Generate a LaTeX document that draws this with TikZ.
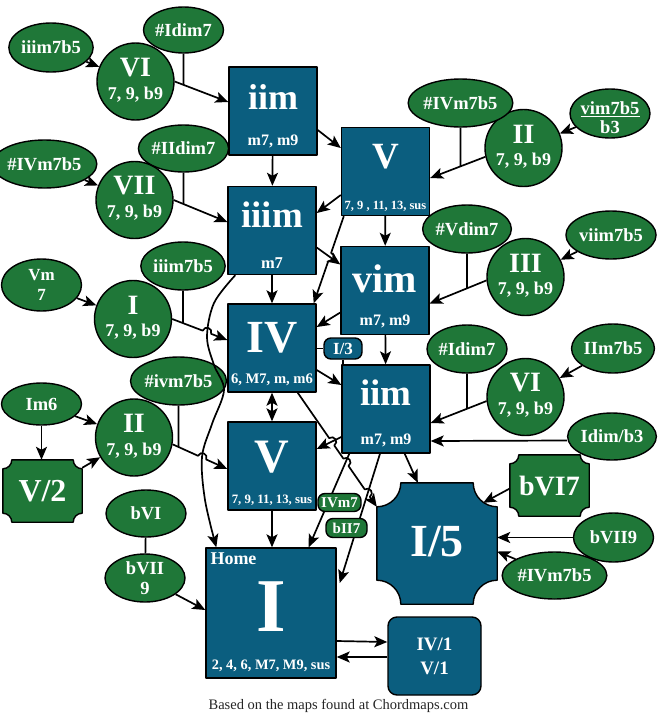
\documentclass[tikz,border=0pt]{standalone}
\usepackage{fontspec}
\setmainfont{Liberation Serif}
\usetikzlibrary{arrows.meta,shapes.geometric,calc}
\definecolor{bluec}{RGB}{11,94,127}
\definecolor{greenc}{RGB}{31,119,56}
\newcommand{\myfs}[1]{\fontsize{#1}{#1}\selectfont\bfseries}
% concave-corner box drawn on the rectangle of node #1, corner radius #2, style #3
\newcommand{\concavebox}[3]{%
  \draw[#3] ($(#1.north west)+(#2,0)$) -- ($(#1.north east)+(-#2,0)$)
  .. controls +(0,0.5523*#2) and +(-0.5523*#2,0) .. ($(#1.north east)+(0,#2)$)
  -- ($(#1.south east)+(0,-#2)$)
  .. controls +(-0.5523*#2,0) and +(0,-0.5523*#2) .. ($(#1.south east)+(-#2,0)$)
  -- ($(#1.south west)+(#2,0)$)
  .. controls +(0,-0.5523*#2) and +(0.5523*#2,0) .. ($(#1.south west)+(0,-#2)$)
  -- ($(#1.north west)+(0,#2)$)
  .. controls +(0.5523*#2,0) and +(0,0.5523*#2) .. ($(#1.north west)+(#2,0)$) -- cycle;}
\newcommand{\gcirc}[4]{%
  \node[gc] (#1) at (#2) {};
  \node[wt,font=\myfs{28}] at ($(#1)+(0,-14)$) {#3};
  \node[wt,font=\myfs{18}] at ($(#1)+(0,13)$) {#4};}
\newcommand{\bluesq}[8]{%
  \node[bx] (#1) at (#2) {};
  \node[wt,font=\myfs{#4}] at ($(#1)+(0,#5)$) {#3};
  \node[wt,font=\myfs{#7}] at ($(#1)+(0,#8)$) {#6};}
% hop coordinates: prefix, start, end, position
\newcommand{\hopat}[4]{%
  \coordinate (#1c) at ($(#2)!#4!(#3)$);
  \coordinate (#1a) at ($(#1c)!4.5pt!(#2)$);
  \coordinate (#1b) at ($(#1c)!4.5pt!(#3)$);}
\tikzset{
  bx/.style={draw=black, fill=bluec, line width=1.4pt, inner sep=0pt, minimum width=88pt, minimum height=88pt},
  gc/.style={circle, draw=black, fill=greenc, line width=1.4pt, inner sep=0pt, minimum size=77pt},
  ge/.style={ellipse, draw=black, fill=greenc, line width=1.4pt, inner sep=0pt, minimum width=80pt, minimum height=48pt, text=white, align=center, font={\myfs{18.5}}},
  wt/.style={text=white, inner sep=0pt, align=center},
  arr/.style={line width=1.7pt, -{Stealth[length=13pt,width=11pt,inset=3pt]}},
  darr/.style={line width=1.7pt, {Stealth[length=13pt,width=11pt,inset=3pt]}-{Stealth[length=13pt,width=11pt,inset=3pt]}},
  ln/.style={line width=1.7pt},
  pill/.style={rounded corners=7pt, draw=black, line width=1.4pt, inner sep=0pt, text=white, font={\myfs{15}}},
  cshape/.style={draw=black, fill=#1, line width=1.4pt},
}
\begin{document}
\begin{tikzpicture}[x=1pt,y=-1pt,line join=round]
\path[fill=white,use as bounding box] (0,0) rectangle (659,718);

% ---------- blue boxes ----------
\bluesq{iimA}{273,111}{iim}{36}{-14}{m7, m9}{16}{30}
\bluesq{VA}{385.5,171.5}{V}{37}{-14.5}{7, 9 , 11, 13, sus}{12.5}{34.5}
\bluesq{iiim}{272,230.5}{iiim}{37}{-15.5}{m7}{16.5}{32.5}
\bluesq{vim}{385,290.5}{vim}{40}{-12}{m7, m9}{16}{30.5}
\bluesq{IV}{272,348}{IV}{46}{-10}{6, M7, m, m6}{14.6}{32}
\bluesq{iimB}{386,409}{iim}{37}{-16.5}{m7, m9}{16}{31}
\bluesq{VB}{272,466}{V}{48}{-9}{7, 9, 11, 13, sus}{12.8}{34}

\node[bx, minimum width=130pt, minimum height=130pt] (home) at (271,613) {};
\node[wt, anchor=west, font=\myfs{18}] at ($(home.north west)+(5,11)$) {Home};
\node[wt, font=\myfs{76}] at ($(home)+(0,-6)$) {I};
\node[wt, font=\myfs{14.4}] at ($(home)+(0,53)$) {2, 4, 6, M7, M9, sus};

\node[inner sep=0pt, minimum width=120pt, minimum height=121pt] (I5) at (437,543.5) {};
\concavebox{I5}{24}{cshape=bluec}
\node[wt, font=\myfs{46}] at ($(I5)+(0,-2)$) {I/5};

\node[draw=black, fill=bluec, rounded corners=9pt, line width=1.4pt, minimum width=93pt, minimum height=78pt, inner sep=0pt, text=white, align=center, font={\fontsize{19}{24}\selectfont\bfseries}] (IV1) at (434.5,656) {IV/1\\V/1};

% ---------- green circles ----------
\gcirc{VIa}{135.5,81.5}{VI}{7, 9, b9}
\gcirc{VII}{134.5,200}{VII}{7, 9, b9}
\gcirc{Ia}{133,319}{I}{7, 9, b9}
\gcirc{IIa}{134,437.5}{II}{7, 9, b9}
\gcirc{IIb}{523.5,148}{II}{7, 9, b9}
\gcirc{III}{525.5,277}{III}{7, 9, b9}
\gcirc{VIb}{525.5,397}{VI}{7, 9, b9}

% ---------- green ellipses ----------
\node[ge, minimum width=82pt, minimum height=49pt] (e1) at (51,47.5) {iiim7b5};
\node[ge, minimum height=46pt] (e2) at (183.5,30) {\#Idim7};
\node[ge] (e3) at (44.5,164) {\#IVm7b5};
\node[ge, minimum height=47pt] (e4) at (183.5,148.5) {\#IIdim7};
\node[ge, minimum height=52pt, font={\fontsize{17}{20}\selectfont\bfseries}] (e5) at (41.5,285) {Vm\\7};
\node[ge] (e6) at (183,266) {iiim7b5};
\node[ge, minimum height=42pt] (e7) at (41.5,404) {Im6};
\node[ge] (e8) at (178.5,381) {\#ivm7b5};
\node[ge, minimum height=47pt] (e9) at (146,513.5) {bVI};
\node[ge, font={\fontsize{18.5}{20}\selectfont\bfseries}] (e10) at (145,578) {bVII\\9};
\node[ge] (e11) at (460.5,103) {\#IVm7b5};
\node[ge, minimum height=49pt] (e12) at (610,113.5) {};
\node[wt, font=\myfs{18.5}] (e12t) at ($(e12)+(0,-5.5)$) {vim7b5};
\draw[white, line width=1.4pt] ($(e12t.south west)+(0,2)$) -- ($(e12t.south east)+(0,2)$);
\node[wt, font=\myfs{18.5}] at ($(e12)+(0,14)$) {b3};
\node[ge] (e13) at (467,229) {\#Vdim7};
\node[ge, minimum width=81pt] (e14) at (611,235) {viim7b5};
\node[ge] (e15) at (467,349) {\#Idim7};
\node[ge, minimum height=49pt] (e16) at (613,348.5) {IIm7b5};
\node[ge, minimum width=81pt, minimum height=47pt] (e17) at (612,436.5) {Idim/b3};
\node[ge, minimum height=49pt] (e18) at (613.5,537.5) {bVII9};
\node[ge, minimum width=81pt, minimum height=47pt] (e19) at (554.5,575.5) {\#IVm7b5};

% ---------- concave green boxes ----------
\node[inner sep=0pt, minimum width=79pt, minimum height=62pt] (V2) at (42.5,491) {};
\concavebox{V2}{9}{cshape=greenc}
\node[wt, font=\myfs{32}] at (V2) {V/2};
\node[inner sep=0pt, minimum width=79pt, minimum height=61pt] (bVI7) at (549.5,485.5) {};
\concavebox{bVI7}{9}{cshape=greenc}
\node[wt, font=\myfs{28}] at (bVI7) {bVI7};

% ---------- left side edges with junctions ----------
\draw[arr] (e1) -- (VIa);
\coordinate (a1) at (VIa.east); \coordinate (b1) at ($(iimA.west)+(0,-9)$);
\draw[arr] (a1) -- (b1);
\draw[ln] (e2.south) -- (intersection of e2.south--e2.north and a1--b1);

\draw[arr] (e3) -- (VII);
\coordinate (a2) at (VII.east); \coordinate (b2) at ($(iiim.west)+(0,-8.5)$);
\draw[arr] (a2) -- (b2);
\draw[ln] (e4.south) -- (intersection of e4.south--e4.north and a2--b2);

\draw[arr] (e5) -- (Ia);
\coordinate (a3) at (Ia.east); \coordinate (b3) at ($(IV.west)+(0,-8)$);
\hopat{ha}{a3}{b3}{0.63}
\draw[arr] (a3) -- (haa) .. controls ($(haa)!0.667!90:(hab)$) and ($(hab)!0.667!-90:(haa)$) .. (hab) -- (b3);
\draw[ln] (e6.south) -- (intersection of e6.south--e6.north and a3--b3);

\draw[arr] (e7) -- (IIa);
\draw[arr] (e7.south) -- (e7.south |- V2.north);
\draw[arr] (V2) -- (IIa);
\coordinate (a4) at (IIa.-10); \coordinate (b4) at ($(VB.west)+(0,3)$);
\hopat{hb}{a4}{b4}{0.54}
\draw[arr] (a4) -- (hba) .. controls ($(hba)!0.667!90:(hbb)$) and ($(hbb)!0.667!-90:(hba)$) .. (hbb) -- (b4);
\draw[ln] (e8.south) -- (intersection of e8.south--e8.north and a4--b4);

\draw[ln] (e9) -- (e10);
\draw[arr] (e10) -- ($(home.west)+(0,-3)$);

% ---------- right side edges with junctions ----------
\draw[arr] (e12) -- (IIb);
\coordinate (a5) at (IIb.193); \coordinate (b5) at ($(VA.east)+(0,6.5)$);
\draw[arr] (a5) -- (b5);
\draw[ln] (e11.south) -- (intersection of e11.south--e11.north and a5--b5);

\draw[arr] (e14) -- (III);
\coordinate (a6) at (III.185); \coordinate (b6) at ($(vim.east)+(0,13)$);
\draw[arr] (a6) -- (b6);
\draw[ln] (e13.south) -- (intersection of e13.south--e13.north and a6--b6);

\draw[arr] (e16) -- (VIb);
\coordinate (a7) at (VIb.186); \coordinate (b7) at ($(iimB.east)+(0,14)$);
\draw[arr] (a7) -- (b7);
\draw[ln] (e15.south) -- (intersection of e15.south--e15.north and a7--b7);

\draw[arr] ($(e17.west)+(0,4)$) -- ($(iimB.east)+(0,32)$);

\draw[arr] ($(bVI7.west)+(0,3)$) -- ($(I5.north east)+(-14,20)$);
\draw[arr] (e18.west) -- (e18.west -| I5.east);
\draw[arr] (e19) -- ($(I5.east)+(0,8)$);

% ---------- main chain ----------
\draw[arr] ($(iimA.east)+(0,19)$) -- ($(VA.west)+(0,-23.5)$);
\draw[arr] (iimA) -- (iiim);
\draw[arr] ($(VA.west)+(0,23.5)$) -- ($(iiim.east)+(0,-17.5)$);
\draw[arr] (VA) -- (vim);
\coordinate (vs) at ($(VA.south west)+(3,0)$); \coordinate (ve) at ($(IV.north east)+(-3,0)$);
\hopat{hc}{vs}{ve}{0.47}
\draw[arr] (vs) -- (hca) .. controls ($(hca)!0.667!90:(hcb)$) and ($(hcb)!0.667!-90:(hca)$) .. (hcb) -- (ve);
\draw[arr] ($(iiim.east)+(0,17)$) -- ($(vim.west)+(0,-26)$);
\draw[arr] (iiim) -- (IV);
\coordinate (c0) at ($(iiim.south west)+(8,0)$);
\coordinate (c9) at ($(home.north west)+(11,0)$);
\draw[arr] plot[smooth, tension=0.55] coordinates {(c0) (214,303) (207,337) (214,365) (224,390) (212,424) (202,457) (205,500) (c9)};
\draw[arr] ($(vim.west)+(0,22)$) -- ($(IV.east)+(0,-21)$);
\draw[arr] (vim) -- (iimB);
\draw[arr] ($(IV.east)+(0,22)$) -- ($(iimB.west)+(0,-24)$);
\draw[darr] (IV) -- (VB);
\coordinate (fs) at ($(IV.south east)+(-19,0)$); \coordinate (fe) at ($(I5.north west)+(0,24)$);
\hopat{hd}{fs}{fe}{0.43}
\hopat{he}{fs}{fe}{0.61}
\hopat{hf}{fs}{fe}{0.88}
\draw[arr] (fs) -- (hda) .. controls ($(hda)!0.667!90:(hdb)$) and ($(hdb)!0.667!-90:(hda)$) .. (hdb)
  -- (hea) .. controls ($(hea)!0.667!90:(heb)$) and ($(heb)!0.667!-90:(hea)$) .. (heb)
  -- (hfa) .. controls ($(hfa)!0.667!90:(hfb)$) and ($(hfb)!0.667!-90:(hfa)$) .. (hfb) -- (fe);
\draw[arr] ($(iimB.west)+(0,28)$) -- ($(VB.east)+(0,-17)$);
\draw[arr] ($(iimB.south west)+(8,0)$) -- ($(home.north east)+(-28,0)$);
\draw[arr] ($(iimB.south)+(-6,0)$) -- ($(home.east)+(3,-30)$);
\draw[arr] ($(iimB.south east)+(-26,0)$) -- ($(I5.north west)+(41,0)$);
\draw[arr] (VB) -- (VB |- home.north);
\draw[arr] ($(home.east)+(0,28)$) -- ($(IV1.west)+(0,-14)$);
\draw[arr] ($(IV1.west)+(0,1)$) -- ($(home.east)+(0,44)$);

% ---------- small labels ----------
\node[pill, fill=bluec, minimum width=38pt, minimum height=21pt, font={\myfs{17}}] (I3) at (343,348.5) {I/3};
\draw[ln] (IV.east |- I3) -- (I3.west);
\draw[ln] (I3.south) -- (I3.south |- iimB.north);
\node[pill, fill=greenc, minimum width=43pt, minimum height=18pt] (IVm7) at (339.5,502.5) {IVm7};
\node[pill, fill=greenc, minimum width=41pt, minimum height=19pt] (bII7) at (346.5,528) {bII7};

\node[font={\fontsize{14.5}{14.5}\selectfont}, text=black!85, inner sep=0pt] (cap) at (338.5,706) {Based on the maps found at Chordmaps.com};
\end{tikzpicture}
\end{document}
